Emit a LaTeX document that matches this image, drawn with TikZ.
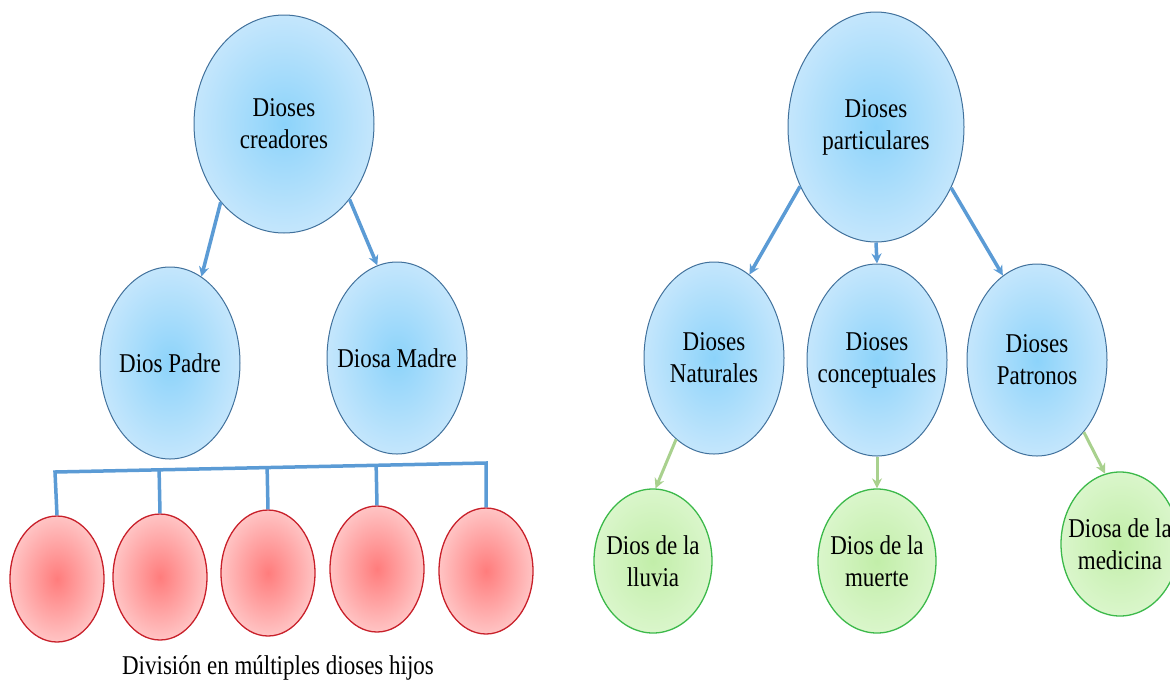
\documentclass[tikz,border=0pt]{standalone}
\usepackage{fontspec}
\setmainfont{Liberation Serif}
\usetikzlibrary{shapes.geometric, arrows.meta, calc}
\definecolor{skyin}{HTML}{8CD3FA}
\definecolor{skyout}{HTML}{C4E6FC}
\definecolor{skyline}{HTML}{41719C}
\definecolor{skyarrow}{HTML}{5B9BD5}
\definecolor{rosein}{HTML}{FF7C7C}
\definecolor{roseout}{HTML}{FFC4C4}
\definecolor{roseline}{HTML}{C8202A}
\definecolor{leafin}{HTML}{C2EEA9}
\definecolor{leafout}{HTML}{DAF6CB}
\definecolor{leafline}{HTML}{3CB94A}
\definecolor{leafarrow}{HTML}{A9D18E}
\newcommand{\tall}[1]{\scalebox{1}[1.18]{#1}} % the letters are drawn a bit taller
\tikzset{
  god/.style={
	ellipse, % every god is an oval
	shading=radial, % lighter towards the border
	align=center,
	inner xsep=-20pt, inner ysep=0pt, % the text does not widen the oval
	line width=1pt,
	font=\fontsize{23}{32}\selectfont,
  },
  bluegod/.style={god, draw=skyline, inner color=skyin, outer color=skyout, minimum width=140pt, minimum height=192pt},
  redgod/.style={god, draw=roseline, inner color=rosein, outer color=roseout, line width=1.3pt, minimum width=94pt, minimum height=126pt},
  greengod/.style={god, draw=leafline, inner color=leafin, outer color=leafout, line width=1.3pt, minimum width=118pt, minimum height=144pt},
  bluearrow/.style={
	->, % arrow from parent to child
	>={Stealth[length=10pt, width=10pt]},
	draw=skyarrow, line width=3.5pt,
  },
  greenarrow/.style={bluearrow, draw=leafarrow, line width=3pt},
}
\begin{document}
\begin{tikzpicture}[x=1pt, y=-1pt]
	  \useasboundingbox (0,0) rectangle (1170,681);

	  \node[bluegod, minimum width=180pt, minimum height=218pt] (creadores) at (284,124) {\tall{Dioses}\\\tall{creadores}};
	  \node[bluegod] (padre) at (170,363) {\tall{Dios Padre}};
	  \node[bluegod] (madre) at (397,358) {\tall{Diosa Madre}};
	  \foreach \x/\y [count=\i] in {57/579, 160/577, 268/573, 377/569, 486/571}
		  \node[redgod] (hijo\i) at (\x,\y) {};
	  \node[font=\fontsize{23}{28}\selectfont] (hijos) at (278,668) {\tall{División en múltiples dioses hijos}};

	  \node[bluegod, minimum width=176pt, minimum height=230pt] (particulares) at (876,127) {\tall{Dioses}\\\tall{particulares}};
	  \node[bluegod] (naturales) at (714,358) {\tall{Dioses}\\\tall{Naturales}};
	  \node[bluegod] (conceptuales) at (877,360) {\tall{Dioses}\\\tall{conceptuales}};
	  \node[bluegod] (patronos) at (1037,360) {\tall{Dioses}\\\tall{Patronos}};
	  \node[greengod] (lluvia) at (653,561) {\tall{Dios de la}\\\tall{lluvia}};
	  \node[greengod] (muerte) at (877,561) {\tall{Dios de la}\\\tall{muerte}};
	  \node[greengod] (medicina) at (1120,544) {\tall{Diosa de la}\\\tall{medicina}};

	  \coordinate (barL) at (55,472);
	  \coordinate (barR) at (486,463);

	  \draw   (creadores.231) edge[bluearrow] (padre.70)
		  (creadores.311) edge[bluearrow] (madre.102)
		  (particulares.218) edge[bluearrow] (naturales.67)
		  (particulares.south) edge[bluearrow] (conceptuales.north)
		  (particulares.321) edge[bluearrow] (patronos.112)
		  (naturales.245) edge[greenarrow] (lluvia.88)
		  (conceptuales.south) edge[greenarrow] (muerte.north)
		  (patronos.303) edge[greenarrow] (medicina.102)
	  ;
	  \draw[draw=skyarrow, line width=3.5pt] (hijo1.north) -- (barL) -- (barR) -- (hijo5.north);
	  \foreach \i in {2,3,4}
		  \draw[draw=skyarrow, line width=3.5pt] (hijo\i.north) -- ($(barL)!(hijo\i.north)!(barR)$);
\end{tikzpicture}
\end{document}
